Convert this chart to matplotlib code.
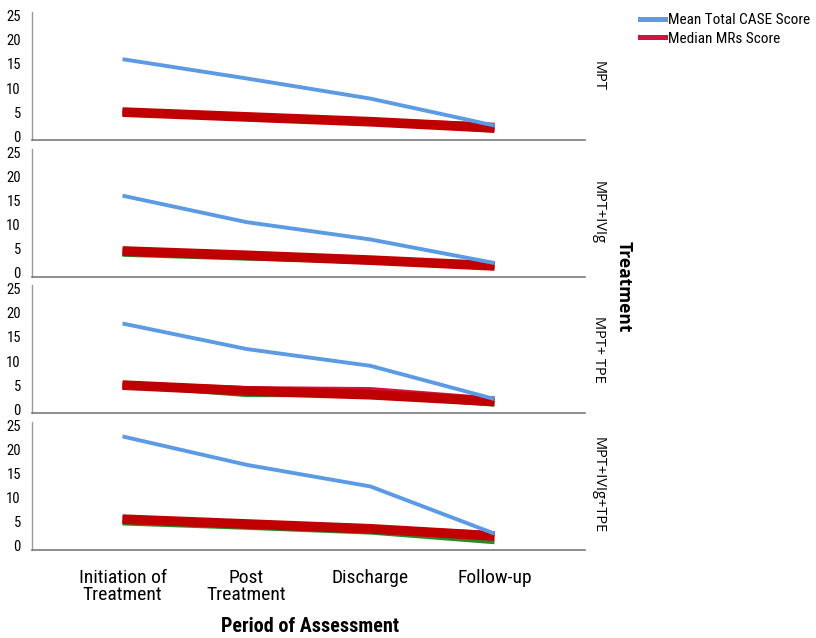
import matplotlib
matplotlib.use("Agg")
import matplotlib.pyplot as plt
from matplotlib.lines import Line2D

periods = ["Initiation of\nTreatment", "Post\nTreatment", "Discharge", "Follow-up"]
treatments = ["MPT", "MPT+IVIg", "MPT+ TPE", "MPT+IVIg+TPE"]
y_ticks = [0, 5, 10, 15, 20, 25]

mean_case = [
    [16.0, 12.0, 7.8, 2.2],
    [16.0, 10.5, 6.9, 2.0],
    [17.8, 12.5, 9.0, 2.1],
    [22.7, 16.8, 12.3, 2.5],
]
median_mrs = [
    [5.0, 4.0, 3.0, 2.0],
    [4.3, 3.5, 2.5, 1.6],
    [5.0, 4.0, 3.8, 1.8],
    [5.5, 4.5, 3.5, 2.2],
]
median_mrs_b = [
    [5.0, 4.0, 3.0, 1.7],
    [4.5, 3.6, 2.6, 1.4],
    [5.0, 3.8, 3.0, 1.6],
    [5.5, 4.5, 3.5, 2.0],
]
median_other = [
    [5.0, 4.0, 3.0, 1.2],
    [3.8, 3.0, 2.4, 1.0],
    [5.0, 3.0, 3.0, 1.0],
    [4.7, 3.8, 2.8, 0.8],
]

BLUE = "#5b9be6"
CRIMSON = "#d2123c"
DARKRED = "#c00000"
GREEN = "#2a8a2a"

W, H = 816, 638
fig = plt.figure(figsize=(W / 100, H / 100), dpi=100)
narrow = ["Roboto Condensed", "DejaVu Sans"]

left_px, right_px = 32, 585
top0, pitch, height = 12, 136.5, 128
x = list(range(len(periods)))

for i, t in enumerate(treatments):
    top = top0 + i * pitch
    ax = fig.add_axes([left_px / W, 1 - (top + height) / H,
                       (right_px - left_px) / W, height / H])
    ax.plot(x, median_other[i], color=GREEN, lw=3.5, solid_capstyle="butt", zorder=2)
    ax.plot(x, median_mrs[i], color=CRIMSON, lw=5.5, solid_capstyle="butt", zorder=3)
    ax.plot(x, median_mrs_b[i], color=DARKRED, lw=7, solid_capstyle="butt", zorder=4)
    ax.plot(x, mean_case[i], color=BLUE, lw=2.8, solid_capstyle="butt", zorder=5)
    ax.set_xlim(-0.73, 3.73)
    ax.set_ylim(-0.8, 25.8)
    ax.set_yticks(y_ticks)
    ax.set_yticklabels([str(v) for v in y_ticks], family=narrow, fontsize=10.5)
    ax.tick_params(axis="y", length=0, pad=8)
    ax.tick_params(axis="x", length=0)
    for s in ["top", "right"]:
        ax.spines[s].set_visible(False)
    ax.spines["left"].set_color("#9a9a9a")
    ax.spines["bottom"].set_color("#7a7a7a")
    ax.spines["left"].set_linewidth(1.0)
    ax.spines["bottom"].set_linewidth(1.2)
    ax.set_xticks(x)
    if i < len(treatments) - 1:
        ax.set_xticklabels([])
    else:
        ax.set_xticklabels(periods, family=narrow, fontsize=14, linespacing=0.95)
        ax.tick_params(axis="x", pad=14)
    ax.text(1.01, 0.5, t, transform=ax.transAxes, rotation=-90,
            ha="left", va="center", fontsize=10.5, family="Open Sans")

fig.text(624 / W, 0.55, "Treatment", rotation=-90, ha="center", va="center",
         fontsize=12.5, fontweight="bold", family="Open Sans")
fig.text(310 / W, 1 - 627 / H, "Period of Assessment",
         ha="center", va="center", fontsize=14.5, fontweight="bold", family=narrow)

handles = [Line2D([], [], color=BLUE, lw=3.6), Line2D([], [], color=CRIMSON, lw=3.6)]
fig.legend(handles, ["Mean Total CASE Score", "Median MRs Score"],
           loc="upper left", bbox_to_anchor=(640 / W, 1 - 13 / H), frameon=False,
           prop={"family": narrow, "size": 11.0}, handlelength=1.65, handletextpad=0.2,
           labelspacing=0.3, borderaxespad=0, borderpad=0)

fig.savefig("out.png", dpi=100)
